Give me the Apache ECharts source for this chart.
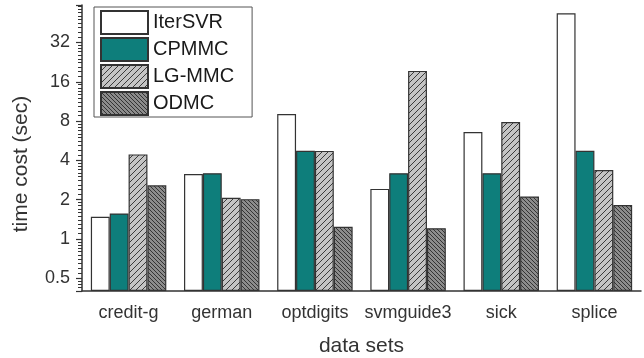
<!DOCTYPE html>
<html>
<head>
<meta charset="utf-8">
<script src="https://cdn.jsdelivr.net/npm/echarts@6/dist/echarts.min.js"></script>
<style>
  html, body { margin: 0; padding: 0; background: #fff; }
  #chart { width: 644px; height: 358px; }
</style>
</head>
<body>
<div id="chart"></div>
<script>
const categories = ['credit-g', 'german', 'optdigits', 'svmguide3', 'sick', 'splice']
const iterSVR = [1.48, 3.15, 9.07, 2.42, 6.6, 53.6]
const cpmmc = [1.57, 3.19, 4.75, 3.19, 3.19, 4.75]
const lgmmc = [4.45, 2.07, 4.73, 19.4, 7.87, 3.38]
const odmc = [2.58, 2.02, 1.24, 1.21, 2.12, 1.82]
const yTicks = [0.5, 1, 2, 4, 8, 16, 32]

// hatch fill for the bars
function hatch(bg, size, forward) {
  const c = document.createElement('canvas')
  c.width = size
  c.height = size
  const ctx = c.getContext('2d')
  ctx.fillStyle = bg
  ctx.fillRect(0, 0, size, size)
  ctx.strokeStyle = '#2a2a2a'
  ctx.lineWidth = 0.9
  ctx.beginPath()
  if (forward) {
    ctx.moveTo(0, size); ctx.lineTo(size, 0)
    ctx.moveTo(-1, 1); ctx.lineTo(1, -1)
    ctx.moveTo(size - 1, size + 1); ctx.lineTo(size + 1, size - 1)
  } else {
    ctx.moveTo(0, 0); ctx.lineTo(size, size)
    ctx.moveTo(-1, size - 1); ctx.lineTo(1, size + 1)
    ctx.moveTo(size - 1, -1); ctx.lineTo(size + 1, 1)
  }
  ctx.stroke()
  return { image: c, repeat: 'repeat' }
}

const border = { borderColor: '#333', borderWidth: 1.2 }
const font = 'Liberation Sans, Arial, Helvetica, sans-serif'

const chart = echarts.init(document.getElementById('chart'))

function barSeries(name, data, fill) {
  return {
    name: name,
    type: 'bar',
    data: data,
    barGap: '0%',
    barCategoryGap: '19%',
    itemStyle: Object.assign({ color: fill }, border)
  }
}

const option = {
  animation: false,
  textStyle: { fontFamily: font },
  grid: {
    left: 82,
    right: 3,
    top: 5,
    bottom: 67,
    outerBoundsMode: 'none'
  },
  legend: {
    orient: 'vertical',
    left: 94,
    top: 7,
    padding: [3, 18, 1, 6],
    icon: 'rect',
    itemWidth: 47,
    itemHeight: 23,
    itemGap: 2,
    backgroundColor: '#fff',
    borderColor: '#555',
    borderWidth: 1,
    textStyle: { fontSize: 20, lineHeight: 23, color: '#1a1a1a', fontFamily: font },
    data: ['IterSVR', 'CPMMC', 'LG-MMC', 'ODMC']
  },
  xAxis: [
    {
      type: 'category',
      data: categories,
      name: 'data sets',
      nameLocation: 'middle',
      nameGap: 45,
      nameTextStyle: { fontSize: 21, color: '#333', fontFamily: font },
      axisLine: { lineStyle: { color: '#333', width: 1.5 } },
      axisTick: { alignWithLabel: true, length: 7, lineStyle: { color: '#333', width: 1.5 } },
      axisLabel: { fontSize: 18, color: '#333', margin: 13, interval: 0 }
    },
    {
      type: 'category',
      data: categories,
      position: 'bottom',
      axisLine: { show: false },
      axisTick: { length: 4, lineStyle: { color: '#333', width: 1.2 } },
      axisLabel: { show: false }
    }
  ],
  yAxis: {
    type: 'log',
    logBase: 2,
    min: 0.4,
    max: 62,
    startValue: 0.4,
    name: 'time cost (sec)',
    nameLocation: 'middle',
    nameGap: 50,
    nameTextStyle: { fontSize: 21, color: '#333', fontFamily: font, padding: [0, 32, 0, 0] },
    axisLine: { show: true, lineStyle: { color: '#333', width: 1.5 } },
    axisTick: { show: true, length: 6, lineStyle: { color: '#333', width: 1.2 } },
    minorTick: { show: true, splitNumber: 10, length: 4, lineStyle: { color: '#333', width: 1 } },
    splitLine: { show: false },
    axisLabel: {
      fontSize: 18,
      color: '#333',
      margin: 12,
      formatter: function (v) {
        const l = Math.log2(v)
        if (Math.abs(l - Math.round(l)) < 0.02) {
          const p = Math.pow(2, Math.round(l))
          if (yTicks.indexOf(p) >= 0) return String(p)
        }
        return ''
      }
    }
  },
  series: [
    barSeries('IterSVR', iterSVR, '#ffffff'),
    barSeries('CPMMC', cpmmc, '#0e7e7b'),
    barSeries('LG-MMC', lgmmc, hatch('#c4c4c4', 6, true)),
    barSeries('ODMC', odmc, hatch('#8c8c8c', 4, false))
  ]
}

chart.setOption(option)
window.addEventListener('resize', () => {
  chart.resize()
})
</script>
</body>
</html>
